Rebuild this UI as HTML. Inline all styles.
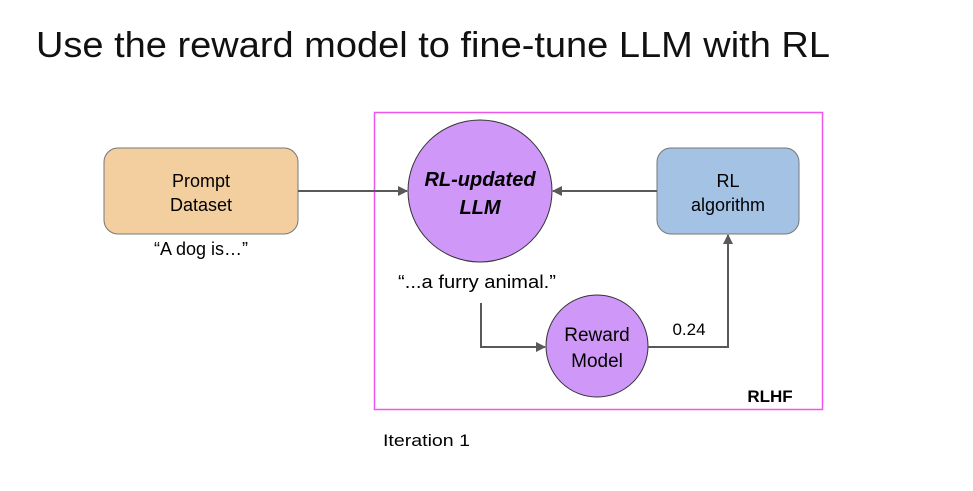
<!DOCTYPE html>
<html><head><style>
body{margin:0;width:973px;height:486px;background:#fff;overflow:hidden;font-family:"Liberation Sans",sans-serif;}
</style></head><body>
<svg width="973" height="486" xmlns="http://www.w3.org/2000/svg" font-family="Liberation Sans, sans-serif">
<defs><marker id="a" markerWidth="10" markerHeight="10" refX="9" refY="5" orient="auto" markerUnits="userSpaceOnUse"><path d="M0,0 L10,5 L0,10 z" fill="#595959"/></marker></defs>
<text x="36" y="57" font-size="36" fill="#111" textLength="794" lengthAdjust="spacingAndGlyphs">Use the reward model to fine-tune LLM with RL</text>
<rect x="374.5" y="112.5" width="448" height="297" fill="none" stroke="#ee55ee" stroke-width="1.5"/>
<rect x="104" y="148" width="194" height="86" rx="14" fill="#f3cfa0" stroke="#777"/>
<text x="201" y="187" font-size="18" text-anchor="middle">Prompt</text>
<text x="201" y="211" font-size="18" text-anchor="middle">Dataset</text>
<text x="201" y="255" font-size="18" text-anchor="middle">“A dog is…”</text>
<rect x="657" y="148" width="142" height="86" rx="14" fill="#a4c2e4" stroke="#777"/>
<text x="728" y="187" font-size="18" text-anchor="middle">RL</text>
<text x="728" y="211" font-size="18" text-anchor="middle">algorithm</text>
<ellipse cx="480" cy="191" rx="72" ry="71" fill="#cf97f7" stroke="#333"/>
<text x="480" y="186" font-size="20" font-weight="bold" font-style="italic" text-anchor="middle">RL-updated</text>
<text x="480" y="214" font-size="20" font-weight="bold" font-style="italic" text-anchor="middle">LLM</text>
<text x="477" y="288" font-size="18" text-anchor="middle" textLength="158" lengthAdjust="spacingAndGlyphs">“...a furry animal.”</text>
<ellipse cx="597" cy="346" rx="51" ry="51" fill="#cf97f7" stroke="#333"/>
<text x="597" y="341" font-size="19" text-anchor="middle">Reward</text>
<text x="597" y="367" font-size="19" text-anchor="middle">Model</text>
<text x="689" y="335" font-size="17" text-anchor="middle">0.24</text>
<text x="770" y="402" font-size="17" font-weight="bold" text-anchor="middle">RLHF</text>
<text x="383" y="446" font-size="17" textLength="87" lengthAdjust="spacingAndGlyphs">Iteration 1</text>
<g stroke="#595959" stroke-width="2" fill="none">
<line x1="298" y1="191" x2="407" y2="191" marker-end="url(#a)"/>
<line x1="657" y1="191" x2="553" y2="191" marker-end="url(#a)"/>
<polyline points="481,303 481,347 545,347" marker-end="url(#a)"/>
<polyline points="648,347 728,347 728,235" marker-end="url(#a)"/>
</g>
</svg>
</body></html>
